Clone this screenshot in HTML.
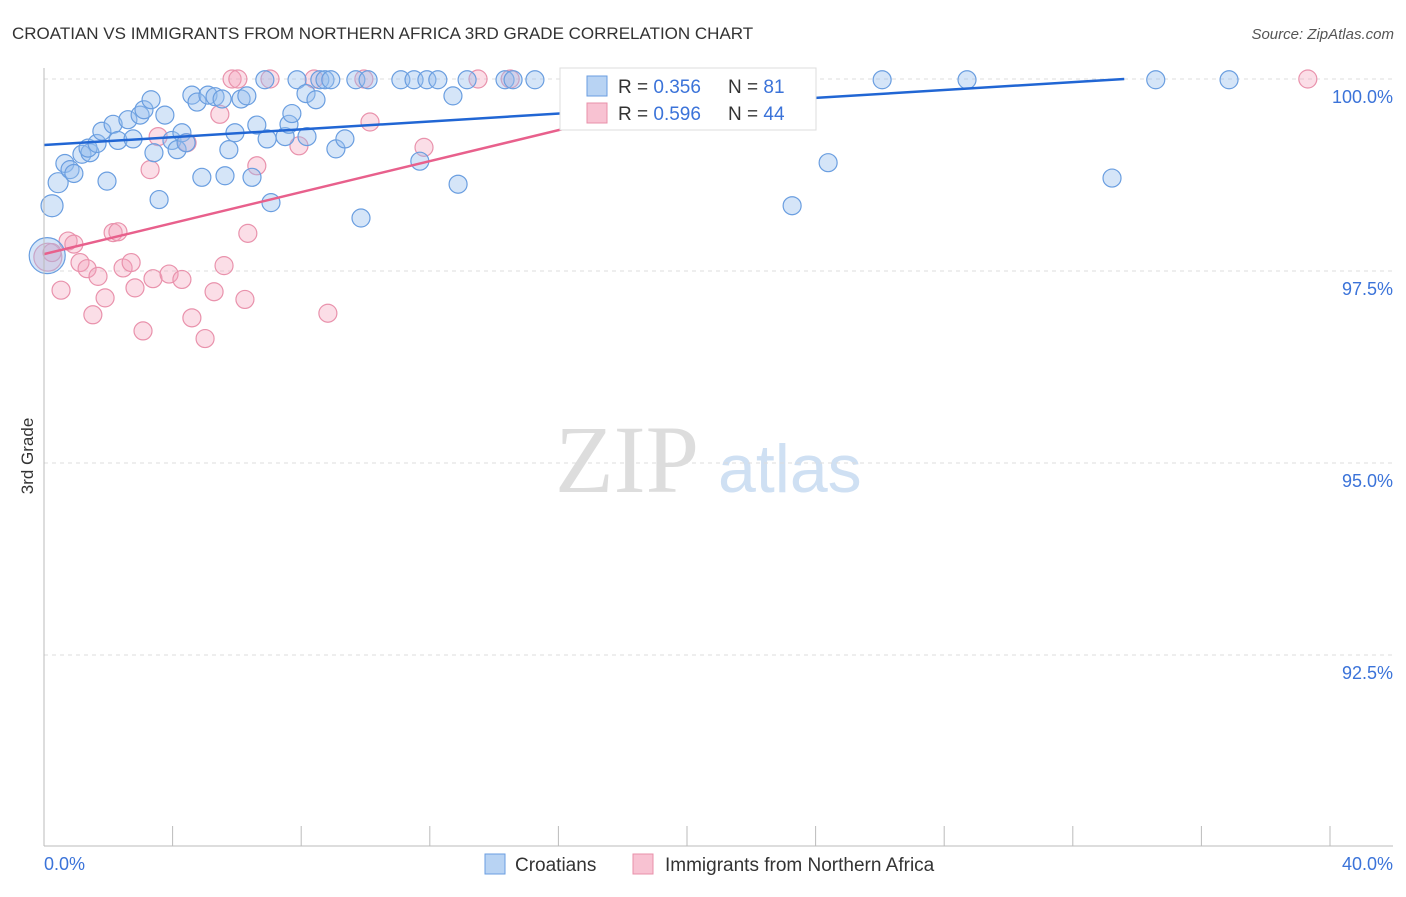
<!DOCTYPE html>
<html><head><meta charset="utf-8"><style>
body{margin:0;background:#fff;font-family:"Liberation Sans",sans-serif}
</style></head><body>
<svg id="c" width="1406" height="892" xmlns="http://www.w3.org/2000/svg">
<text x="12" y="39" font-size="17" fill="#333">CROATIAN VS IMMIGRANTS FROM NORTHERN AFRICA 3RD GRADE CORRELATION CHART</text>
<text x="1394" y="39" font-size="15" fill="#555" text-anchor="end" font-style="italic">Source: ZipAtlas.com</text>
<text x="33" y="456" font-size="17" fill="#333" transform="rotate(-90 33 456)" text-anchor="middle">3rd Grade</text>
<text x="555" y="492" font-size="96" fill="#ddd" font-family="Liberation Serif,serif">ZIP</text>
<text x="718" y="492" font-size="68" fill="#cfe0f3">atlas</text>
<g id="grid"></g><g id="pts"></g><g id="lines"></g>
<line x1="44" y1="68" x2="44" y2="846" stroke="#bbb"/>
<line x1="44" y1="846" x2="1393" y2="846" stroke="#bbb"/>
<text x="44" y="870" font-size="18" fill="#3b73d9">0.0%</text>
<text x="1393" y="870" font-size="18" fill="#3b73d9" text-anchor="end">40.0%</text>
<g>
<rect x="560" y="68" width="256" height="62" fill="#fff" stroke="#ddd"/>
<rect x="587" y="76" width="20" height="20" fill="#b8d3f3" stroke="#6a9ee0"/>
<rect x="587" y="103" width="20" height="20" fill="#f8c2d2" stroke="#e890aa"/>
<text x="618" y="93" font-size="19" fill="#333">R = <tspan fill="#3b73d9">0.356</tspan><tspan x="728">N = </tspan><tspan fill="#3b73d9">81</tspan></text>
<text x="618" y="120" font-size="19" fill="#333">R = <tspan fill="#3b73d9">0.596</tspan><tspan x="728">N = </tspan><tspan fill="#3b73d9">44</tspan></text>
</g>
<g>
<rect x="485" y="854" width="20" height="20" fill="#b8d3f3" stroke="#6a9ee0"/>
<text x="515" y="871" font-size="19" fill="#333">Croatians</text>
<rect x="633" y="854" width="20" height="20" fill="#f8c2d2" stroke="#e890aa"/>
<text x="665" y="871" font-size="19" fill="#333">Immigrants from Northern Africa</text>
</g>
</svg>
<script>
const yTicks=[100,97.5,95,92.5];
const yTickLabels=["100.0%","97.5%","95.0%","92.5%"];
const xTicks=[0,4,8,12,16,20,24,28,32,36,40];
const croX=[0.25,0.44,0.65,0.81,0.93,1.18,1.43,1.37,1.65,1.8,1.96,2.15,2.3,2.61,2.77,2.99,3.11,3.33,3.42,3.58,3.76,3.98,4.14,4.29,4.42,4.6,4.76,4.91,5.1,5.32,5.54,5.63,5.75,5.94,6.13,6.31,6.47,6.62,6.87,6.94,7.06,7.5,7.62,7.71,7.87,8.18,8.15,8.46,8.58,8.74,8.92,9.08,9.36,9.7,9.86,10.08,11.1,11.51,11.69,11.91,12.25,12.72,12.88,13.16,14.34,14.59,15.27,16.67,17.98,22.27,23.27,24.39,26.07,28.71,33.22,34.58,36.86,0.1];
const croY=[98.35,98.65,98.9,98.82,98.77,99.02,99.04,99.1,99.16,99.32,98.67,99.41,99.2,99.47,99.22,99.53,99.6,99.73,99.04,98.43,99.53,99.2,99.08,99.3,99.17,99.79,99.7,98.72,99.79,99.77,99.74,98.74,99.08,99.3,99.74,99.78,98.72,99.4,99.99,99.22,98.39,99.25,99.41,99.55,99.99,99.25,99.81,99.73,99.99,99.99,99.99,99.09,99.22,99.99,98.19,99.99,99.99,99.99,98.93,99.99,99.99,99.78,98.63,99.99,99.99,99.99,99.99,99.99,99.99,99.99,98.35,98.91,99.99,99.99,98.71,99.99,99.99,97.7];
const croR=[11,10,9,9,9,9,9,9,9,9,9,9,9,9,9,9,9,9,9,9,9,9,9,9,9,9,9,9,9,9,9,9,9,9,9,9,9,9,9,9,9,9,9,9,9,9,9,9,9,9,9,9,9,9,9,9,9,9,9,9,9,9,9,9,9,9,9,9,9,9,9,9,9,9,9,9,9,18];
const nafX=[0.12,0.25,0.53,0.75,0.93,1.12,1.34,1.52,1.68,1.9,2.15,2.3,2.46,2.71,2.83,3.08,3.3,3.39,3.55,3.89,4.29,4.45,4.6,5.01,5.29,5.47,5.6,5.85,6.03,6.25,6.34,6.62,7.03,7.93,8.4,8.83,9.95,10.14,11.82,13.5,14.5,20.19,39.31];
const nafY=[97.68,97.74,97.25,97.89,97.85,97.61,97.53,96.93,97.43,97.15,98.0,98.01,97.54,97.61,97.28,96.72,98.82,97.4,99.25,97.46,97.39,99.17,96.89,96.62,97.23,99.54,97.57,100,100,97.13,97.99,98.87,100,99.13,100,96.95,100,99.44,99.11,100,100,100,100];
const nafR=[14,9,9,9,9,9,9,9,9,9,9,9,9,9,9,9,9,9,9,9,9,9,9,9,9,9,9,9,9,9,9,9,9,9,9,9,9,9,9,9,9,9,9];
const croLine=[0,99.14,33.6,100];
const nafLine=[0,97.72,22.6,100];
const NS="http://www.w3.org/2000/svg";
const X=v=>44+v*(1330-44)/40;
const Y=v=>79+(100-v)*76.8;
function mk(t,a,p){const e=document.createElementNS(NS,t);for(const k in a)e.setAttribute(k,a[k]);document.getElementById(p).appendChild(e);return e;}
yTicks.forEach((t,i)=>{
 const l=mk('line',{x1:44,x2:1393,y1:Y(t),y2:Y(t),stroke:'#ddd','stroke-dasharray':'4,4'},'grid');
 
 
 const tx=mk('text',{x:1393,y:Y(t)+24,'font-size':18,fill:'#3b73d9','text-anchor':'end'},'grid');
 tx.textContent=yTickLabels[i];
 
 
});
xTicks.forEach(t=>{
 const l=mk('line',{x1:X(t),x2:X(t),y1:826,y2:846,stroke:'#bbb'},'grid');
 
 
});
nafX.forEach((v,i)=>{
 const c=mk('circle',{cx:X(v),cy:Y(nafY[i]),r:nafR[i],fill:'rgba(244,160,185,0.35)',stroke:'#e992ac','stroke-width':1.2},'pts');
 
 
});
croX.forEach((v,i)=>{
 const c=mk('circle',{cx:X(v),cy:Y(croY[i]),r:croR[i],fill:'rgba(150,190,238,0.4)',stroke:'#6a9ee0','stroke-width':1.2},'pts');
 
 
});
const l1=mk('line',{x1:X(croLine[0]),y1:Y(croLine[1]),x2:X(croLine[2]),y2:Y(croLine[3]),stroke:'#2166d4','stroke-width':2.5},'lines');


const l2=mk('line',{x1:X(nafLine[0]),y1:Y(nafLine[1]),x2:X(nafLine[2]),y2:Y(nafLine[3]),stroke:'#e8608c','stroke-width':2.5},'lines');


</script>
</body></html>
